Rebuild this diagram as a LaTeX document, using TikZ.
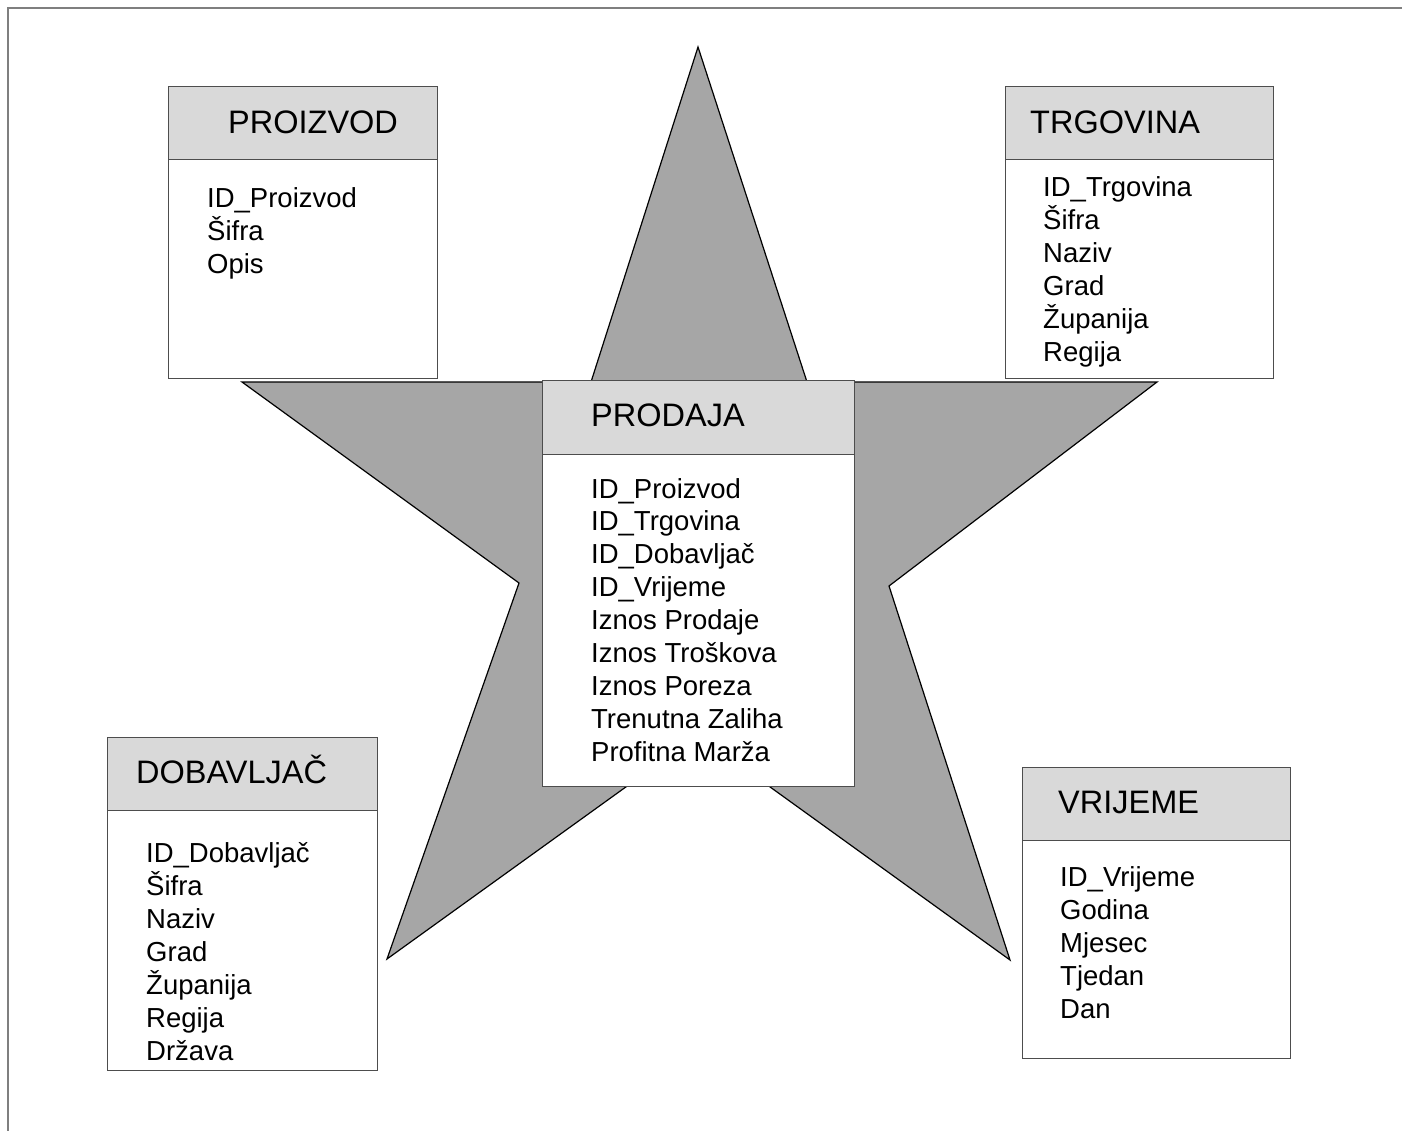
\documentclass[tikz,border=0pt]{standalone}
\usepackage{fontspec}
\setmainfont{Liberation Sans}
\definecolor{starfill}{HTML}{A6A6A6}
\definecolor{hdrfill}{HTML}{D9D9D9}
\definecolor{boxline}{HTML}{4D4D4D}
\definecolor{frameline}{HTML}{7F7F7F}
\begin{document}
\begin{tikzpicture}[x=1pt,y=-1pt,
  tbl/.style={draw=boxline, line width=1.4pt, fill=white, inner sep=0pt, anchor=north west},
  hdr/.style={draw=boxline, line width=1.4pt, fill=hdrfill, inner sep=0pt, anchor=north west},
  ttl/.style={anchor=base west, inner sep=0pt, font=\fontsize{32.5}{38}\selectfont},
  fld/.style={anchor=base west, inner sep=0pt, font=\fontsize{27.5}{33}\selectfont}]
\useasboundingbox (0,0) rectangle (1402,1131);

% page frame (top and left edges)
\draw[frameline, line width=2.5pt] (8,1131) -- (8,8) -- (1402,8);

% the star behind the tables
\filldraw[fill=starfill, draw=black, line width=1.2pt, line join=miter]
  (698,47) -- (807,382) -- (1157,382) -- (889,586) -- (1010,960) -- (698,735)
  -- (387,959) -- (519,583) -- (242,382) -- (591,382) -- cycle;

% PROIZVOD
\node[tbl, minimum width=269pt, minimum height=292pt] (proizvod) at (168,86) {};
\node[hdr, minimum width=269pt, minimum height=73pt] (proizvod-h) at (168,86) {};
\node[ttl] (proizvod-t) at (228,133.5) {PROIZVOD};
\foreach \t [count=\i] in {ID\_Proizvod, Šifra, Opis}
  \node[fld] (proizvod-\i) at (207,{208+33*(\i-1)}) {\t};

% TRGOVINA
\node[tbl, minimum width=268pt, minimum height=292pt] (trgovina) at (1005,86) {};
\node[hdr, minimum width=268pt, minimum height=73pt] (trgovina-h) at (1005,86) {};
\node[ttl] (trgovina-t) at (1030,133.5) {TRGOVINA};
\foreach \t [count=\i] in {ID\_Trgovina, Šifra, Naziv, Grad, Županija, Regija}
  \node[fld] (trgovina-\i) at (1043,{197+33*(\i-1)}) {\t};

% PRODAJA
\node[tbl, minimum width=312pt, minimum height=406pt] (prodaja) at (542,380) {};
\node[hdr, minimum width=312pt, minimum height=74pt] (prodaja-h) at (542,380) {};
\node[ttl] (prodaja-t) at (591,426.5) {PRODAJA};
\foreach \t [count=\i] in {ID\_Proizvod, ID\_Trgovina, ID\_Dobavljač, ID\_Vrijeme,
    Iznos Prodaje, Iznos Troškova, Iznos Poreza, Trenutna Zaliha, Profitna Marža}
  \node[fld] (prodaja-\i) at (591,{498+32.9*(\i-1)}) {\t};

% DOBAVLJAČ
\node[tbl, minimum width=270pt, minimum height=333pt] (dobavljac) at (107,737) {};
\node[hdr, minimum width=270pt, minimum height=73pt] (dobavljac-h) at (107,737) {};
\node[ttl] (dobavljac-t) at (136,783.5) {DOBAVLJAČ};
\foreach \t [count=\i] in {ID\_Dobavljač, Šifra, Naziv, Grad, Županija, Regija, Država}
  \node[fld] (dobavljac-\i) at (146,{862+33*(\i-1)}) {\t};

% VRIJEME
\node[tbl, minimum width=268pt, minimum height=291pt] (vrijeme) at (1022,767) {};
\node[hdr, minimum width=268pt, minimum height=73pt] (vrijeme-h) at (1022,767) {};
\node[ttl] (vrijeme-t) at (1058,813.5) {VRIJEME};
\foreach \t [count=\i] in {ID\_Vrijeme, Godina, Mjesec, Tjedan, Dan}
  \node[fld] (vrijeme-\i) at (1060,{886+33*(\i-1)}) {\t};
\end{tikzpicture}
\end{document}
